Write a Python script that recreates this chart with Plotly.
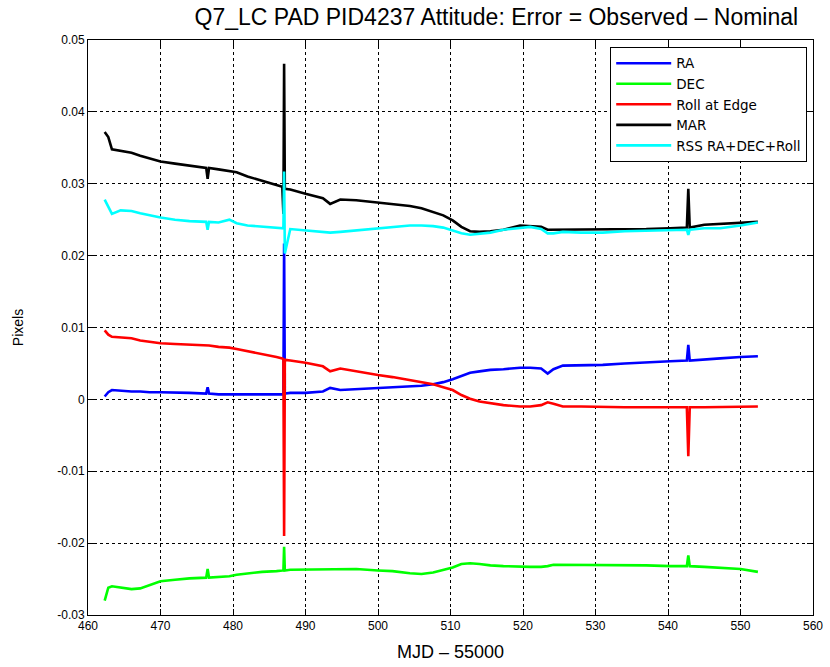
import plotly.graph_objects as go

# Time (MJD - 55000)
mjd = [462.3, 462.8, 463.3, 464.5, 466, 467.2, 468.5, 470, 472, 474,
       476.3, 476.5, 476.7, 478, 479.5, 480.5, 482, 484, 486, 486.8,
       486.95, 487.05, 487.15, 487.9, 490, 492.4, 493.4, 494.8, 497, 500,
       502, 504.4, 506, 507.6, 509, 510.3, 511.5, 512.7, 514, 515.5,
       517.3, 519.6, 521, 522.5, 523.4, 524.2, 525.5, 528, 531, 534,
       537, 540.3, 542.6, 542.8, 543.0, 545, 547.2, 550, 552.4]

ra = [0.0004, 0.0010, 0.0013, 0.0012, 0.0011, 0.0011, 0.0010, 0.0010, 0.0009, 0.0009,
      0.0008, 0.0017, 0.0008, 0.0007, 0.0007, 0.0007, 0.0006, 0.0007, 0.0007, 0.0007,
      0.0007, 0.0217, 0.0008, 0.0009, 0.0009, 0.0011, 0.0016, 0.0013, 0.0014, 0.0016,
      0.0017, 0.0018, 0.0019, 0.0021, 0.0024, 0.0028, 0.0033, 0.0037, 0.0039, 0.0041,
      0.0042, 0.0044, 0.0044, 0.0043, 0.0036, 0.0042, 0.0047, 0.0047, 0.0048, 0.0050,
      0.0051, 0.0053, 0.0054, 0.0076, 0.0054, 0.0055, 0.0057, 0.0059, 0.0060]

dec = [-0.0280, -0.0262, -0.0260, -0.0262, -0.0264, -0.0263, -0.0258, -0.0253, -0.0251, -0.0249,
       -0.0248, -0.0236, -0.0248, -0.0247, -0.0246, -0.0244, -0.0242, -0.0240, -0.0239, -0.0238,
       -0.0238, -0.0205, -0.0238, -0.0237, -0.0237, -0.0236, -0.0237, -0.0236, -0.0236, -0.0238,
       -0.0239, -0.0242, -0.0243, -0.0241, -0.0237, -0.0234, -0.0229, -0.0228, -0.0229, -0.0231,
       -0.0232, -0.0233, -0.0233, -0.0233, -0.0232, -0.0230, -0.0230, -0.0230, -0.0230, -0.0231,
       -0.0231, -0.0232, -0.0232, -0.0217, -0.0232, -0.0233, -0.0234, -0.0236, -0.0240]

roll = [0.0096, 0.0090, 0.0087, 0.0086, 0.0085, 0.0082, 0.0080, 0.0078, 0.0077, 0.0076,
        0.0075, 0.0075, 0.0075, 0.0073, 0.0072, 0.0070, 0.0067, 0.0064, 0.0059, 0.0057,
        0.0056, -0.0190, 0.0055, 0.0054, 0.0051, 0.0046, 0.0039, 0.0043, 0.0039, 0.0034,
        0.0031, 0.0027, 0.0024, 0.0021, 0.0017, 0.0013, 0.0006, 0.0001, -0.0003, -0.0005,
        -0.0008, -0.0010, -0.0010, -0.0008, -0.0004, -0.0006, -0.0010, -0.0010, -0.0011, -0.0011,
        -0.0011, -0.0011, -0.0011, -0.0079, -0.0011, -0.0011, -0.0011, -0.0011, -0.0010]

mar = [0.0372, 0.0365, 0.0348, 0.0346, 0.0343, 0.0339, 0.0335, 0.0331, 0.0328, 0.0325,
       0.0322, 0.0307, 0.0322, 0.0320, 0.0318, 0.0316, 0.0310, 0.0304, 0.0299, 0.0296,
       0.0258, 0.0467, 0.0293, 0.0292, 0.0286, 0.0280, 0.0272, 0.0278, 0.0277, 0.0274,
       0.0272, 0.0269, 0.0266, 0.0261, 0.0256, 0.0249, 0.0240, 0.0234, 0.0233, 0.0234,
       0.0236, 0.0242, 0.0241, 0.0240, 0.0236, 0.0236, 0.0236, 0.0236, 0.0236, 0.0237,
       0.0237, 0.0238, 0.0239, 0.0293, 0.0239, 0.0243, 0.0244, 0.0245, 0.0247]

rss = [0.0278, 0.0268, 0.0258, 0.0263, 0.0262, 0.0259, 0.0256, 0.0253, 0.0250, 0.0248,
       0.0247, 0.0236, 0.0247, 0.0246, 0.0250, 0.0245, 0.0242, 0.0240, 0.0239, 0.0238,
       0.0238, 0.0317, 0.0203, 0.0237, 0.0235, 0.0233, 0.0232, 0.0233, 0.0235, 0.0238,
       0.0240, 0.0242, 0.0242, 0.0241, 0.0239, 0.0235, 0.0231, 0.0229, 0.0230, 0.0232,
       0.0236, 0.0238, 0.0240, 0.0237, 0.0231, 0.0231, 0.0233, 0.0232, 0.0232, 0.0234,
       0.0235, 0.0236, 0.0236, 0.0229, 0.0236, 0.0238, 0.0238, 0.0242, 0.0246]

series_names = ["RA", "DEC", "Roll at Edge", "MAR", "RSS RA+DEC+Roll"]
series_colors = ["#0000ff", "#00ff00", "#ff0000", "#000000", "#00ffff"]

x_ticks = [460, 470, 480, 490, 500, 510, 520, 530, 540, 550, 560]
y_ticks = [0.05, 0.04, 0.03, 0.02, 0.01, 0, -0.01, -0.02, -0.03]
y_tick_labels = ["0.05", "0.04", "0.03", "0.02", "0.01", "0", "-0.01", "-0.02", "-0.03"]

for s in (ra, dec, roll, mar, rss):
    assert len(s) == len(mjd)

fig = go.Figure()
for name, vals, col in zip(series_names, [ra, dec, roll, mar, rss], series_colors):
    fig.add_trace(go.Scatter(x=mjd, y=vals, mode="lines", name=name,
                             line=dict(color=col, width=2.6)))

font_family = "Liberation Sans, Arial, sans-serif"
axis_common = dict(
    showline=True, linecolor="black", linewidth=1, mirror="ticks",
    ticks="inside", ticklen=6, tickcolor="black",
    showgrid=True, gridcolor="black", griddash="dot", gridwidth=1,
    zeroline=False, automargin=False,
    tickfont=dict(size=12, color="black", family=font_family),
)

fig.update_layout(
    width=830, height=667,
    margin=dict(l=88, r=17, t=40, b=52),
    paper_bgcolor="white", plot_bgcolor="white",
    font=dict(family=font_family, color="black"),
    title=dict(text="Q7_LC PAD PID4237 Attitude: Error = Observed \u2013 Nominal",
               x=0.598, xanchor="center", y=0.975, yanchor="middle",
               font=dict(size=23, color="black")),
    xaxis=dict(range=[460, 560], tickvals=x_ticks,
               title=dict(text="MJD \u2013 55000", font=dict(size=18), standoff=12),
               **axis_common),
    yaxis=dict(range=[-0.03, 0.05], tickvals=y_ticks, ticktext=y_tick_labels,
               title=dict(text="Pixels", font=dict(size=14), standoff=30),
               **axis_common),
    legend=dict(x=0.992, y=0.988, xanchor="right", yanchor="top",
                bgcolor="white", bordercolor="black", borderwidth=1,
                font=dict(size=13.5, color="black", family="DejaVu Sans, sans-serif"),
                itemwidth=55, tracegroupgap=0),
    showlegend=True,
)

fig.write_html("out.html")
